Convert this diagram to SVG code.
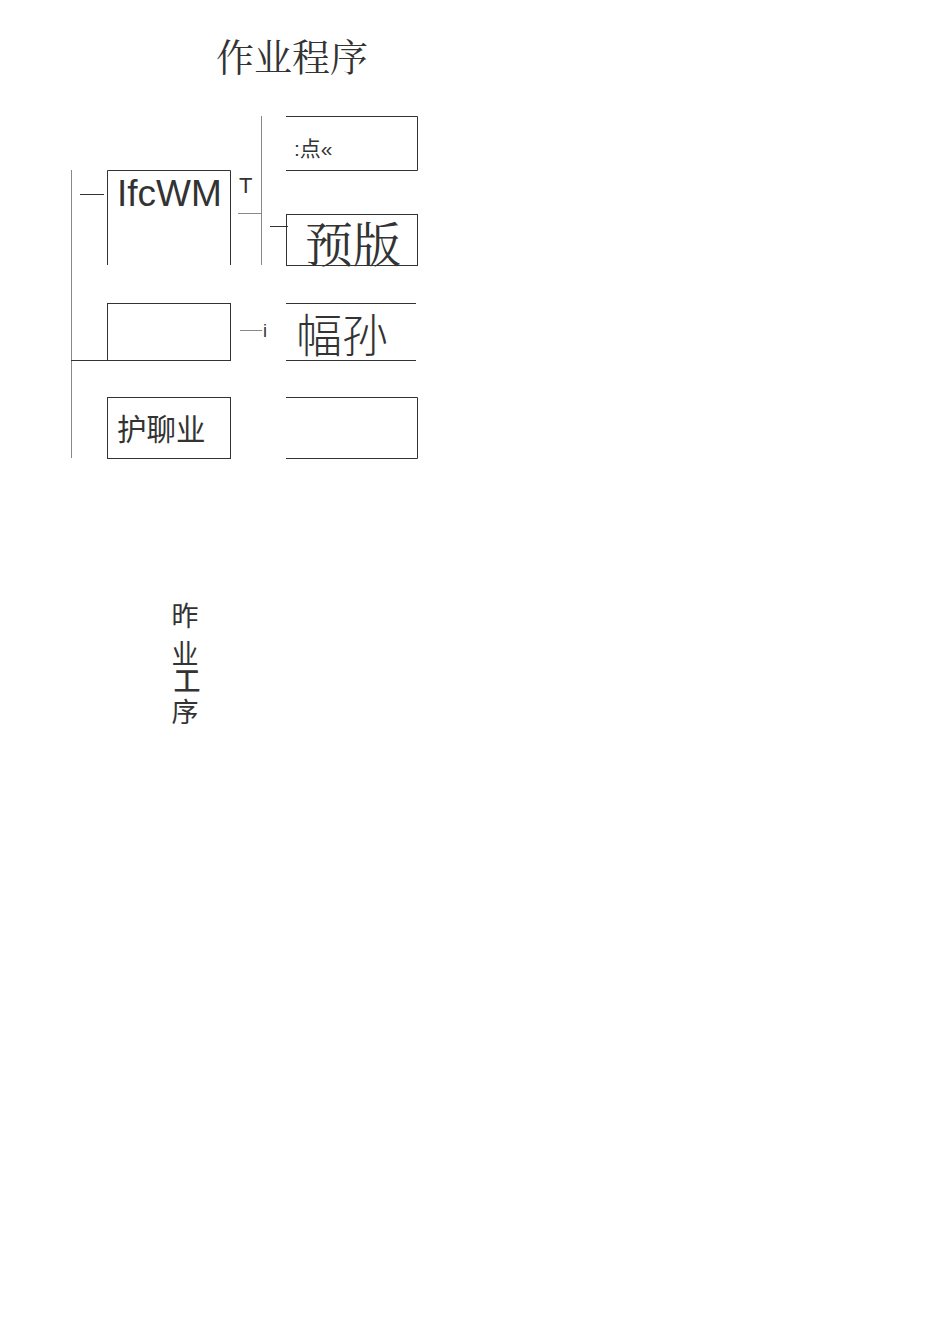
<svg xmlns="http://www.w3.org/2000/svg" width="950" height="1344" viewBox="0 0 950 1344">
<style>
.ln{stroke:#333;stroke-width:1;fill:none}
.lg{stroke:#888;stroke-width:1;fill:none}
.t{font-family:"Liberation Sans","Noto Sans CJK SC",sans-serif;fill:#333}
.s{font-family:"Noto Serif CJK SC","Noto Sans CJK SC",serif;fill:#333}
</style>
<rect width="950" height="1344" fill="#fff"/>
<text class="s" x="216" y="71" font-size="38" fill="#111">作业程序</text>
<g id="connectors">
<path class="lg" d="M71.5 170V458"/>
<path class="ln" d="M71 360.5H107"/>
<path class="ln" d="M80 194.5H104"/>
<path class="lg" d="M261.5 116V265"/>
<path class="lg" d="M238 213.5H261"/>
<path class="ln" d="M270 226.5H288"/>
<path class="lg" d="M240 330.5H262"/>
<text class="t" x="263" y="337" font-size="18" fill="#555">i</text>
<text class="t" x="239" y="193" font-size="22">T</text>
</g>
<g id="n1">
<path class="ln" d="M107.5 265V170.5H230.5V265"/>
<text class="t" x="117" y="206" font-size="37" fill="#444">IfcWM</text>
</g>
<g id="n2">
<path class="ln" d="M286 116.5H417.5V170.5H286"/>
<text class="t" x="294" y="156" font-size="21">:点«</text>
</g>
<g id="n3">
<rect class="ln" x="286.5" y="214.5" width="131" height="51"/>
<text class="s" x="305" y="262" font-size="48" fill="#444">预版</text>
</g>
<g id="n4">
<rect class="ln" x="107.5" y="303.5" width="123" height="57"/>
</g>
<g id="n5">
<path class="ln" d="M286 303.5H416M286 360.5H416"/>
<text class="t" x="296" y="352" font-size="46" fill="#555" font-weight="300">幅孙</text>
</g>
<g id="n6">
<rect class="ln" x="107.5" y="397.5" width="123" height="61"/>
<text class="t" x="117" y="440" font-size="29.5">护聊业</text>
</g>
<g id="n7">
<path class="ln" d="M286 397.5H417.5V458.5H286"/>
</g>
<g id="vtext" class="t" font-size="27" text-anchor="middle">
<text x="185" y="626">昨</text>
<text x="185" y="664">业</text>
<text x="187" y="691" font-weight="500">工</text>
<text x="185" y="722">序</text>
</g>
</svg>
